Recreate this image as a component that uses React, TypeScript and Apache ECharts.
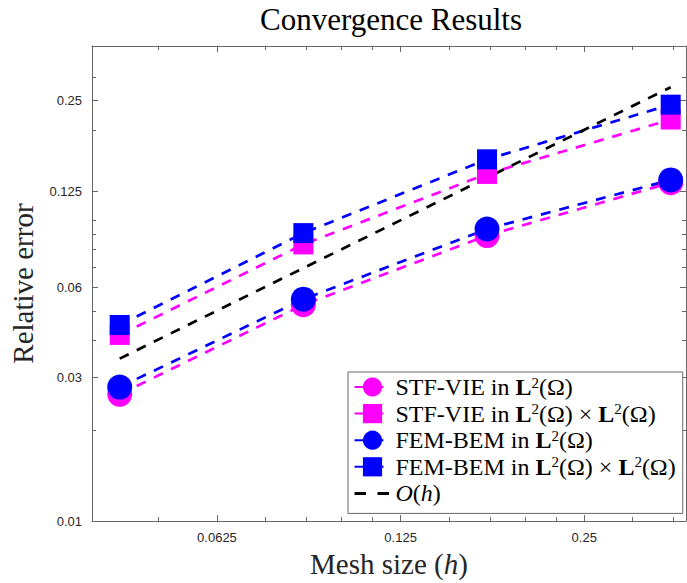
import React, { useEffect, useRef } from "react";
import * as echarts from "echarts";

// ---- data ----
const hValues = [0.0433, 0.0866, 0.1732, 0.3464];
const stfVieL2 = [0.0264, 0.0524, 0.089, 0.1335];
const stfVieL2xL2 = [0.0416, 0.0832, 0.1427, 0.2164];
const femBemL2 = [0.0279, 0.0547, 0.0936, 0.1363];
const femBemL2xL2 = [0.0449, 0.0907, 0.1596, 0.2425];
const orderH = [0.0347, 0.0694, 0.1386, 0.2772];

const seriesNames = [
  "STF-VIE in L2(Ω)",
  "STF-VIE in L2(Ω) x L2(Ω)",
  "FEM-BEM in L2(Ω)",
  "FEM-BEM in L2(Ω) x L2(Ω)",
  "O(h)",
];

const xTickValues = [0.0625, 0.125, 0.25];
const xTickLabels = ["0.0625", "0.125", "0.25"];
const xMinorTicks = [0.05, 0.075, 0.0875, 0.1, 0.1125, 0.15, 0.175, 0.2, 0.225, 0.3, 0.35];
const yTickValues = [0.01, 0.03, 0.06, 0.125, 0.25];
const yTickLabels = ["0.01", "0.03", "0.06", "0.125", "0.25"];
const yMinorTicks = [0.02, 0.04, 0.05, 0.07, 0.08, 0.09, 0.1, 0.2, 0.3];

const X_MIN = 0.039;
const X_MAX = 0.367;
const Y_MIN = 0.01;
const Y_MAX = 0.38;

// ---- styles ----
const SERIF = "'Liberation Serif', 'Times New Roman', serif";
const SANS = "'Liberation Sans', Arial, Helvetica, sans-serif";
const AXIS = "#666666";
const MAGENTA = "#ff00ff";
const BLUE = "#0000ff";

function labelFor(values: number[], labels: string[]) {
  return (v: number) => {
    let best = 0;
    for (let i = 1; i < values.length; i++) {
      if (Math.abs(Math.log(values[i] / v)) < Math.abs(Math.log(values[best] / v))) best = i;
    }
    return labels[best];
  };
}

function legendRich(name: string) {
  if (name === "O(h)") return "{cal|O}({i|h})";
  return name
    .replace(/L2\(Ω\)/g, "{b|L}{sup|2}(Ω)")
    .replace(" x ", " × ");
}

function makeAxis(dir: "x" | "y", position: string, ticks: number[], len: number, showLine: boolean, labels: boolean) {
  const isX = dir === "x";
  const ax: any = {
    type: "log",
    logBase: 10,
    position,
    min: isX ? X_MIN : Y_MIN,
    max: isX ? X_MAX : Y_MAX,
    axisLine: { show: showLine, onZero: false, lineStyle: { color: AXIS, width: 1 } },
    axisTick: { show: true, inside: true, length: len, customValues: ticks, lineStyle: { color: AXIS, width: 1 } },
    axisLabel: { show: false },
    splitLine: { show: false },
    minorTick: { show: false },
    minorSplitLine: { show: false },
    silent: true,
  };
  if (labels) {
    ax.axisLabel = {
      show: true,
      customValues: ticks,
      formatter: isX ? labelFor(xTickValues, xTickLabels) : labelFor(yTickValues, yTickLabels),
      margin: 10,
      color: "#262626",
      fontSize: 13,
      fontFamily: SANS,
    };
  }
  return ax;
}

export default function App() {
  const ref = useRef<HTMLDivElement>(null);

  useEffect(() => {
    if (!ref.current) return;
    const chart = echarts.init(ref.current, undefined, { renderer: "svg" });

    const xAxes = [
      makeAxis("x", "bottom", xTickValues, 6, true, true),
      makeAxis("x", "bottom", xMinorTicks, 4, false, false),
      makeAxis("x", "top", xTickValues, 6, true, false),
      makeAxis("x", "top", xMinorTicks, 4, false, false),
    ];
    Object.assign(xAxes[0], {
      name: "Mesh size ({i|h})",
      nameLocation: "middle",
      nameGap: 21,
      nameTextStyle: {
        fontFamily: SERIF,
        fontSize: 29,
        color: "#262626",
        verticalAlign: "top",
        rich: { i: { fontFamily: SERIF, fontSize: 29, fontStyle: "italic", color: "#262626" } },
      },
    });
    const yAxes = [
      makeAxis("y", "left", yTickValues, 6, true, true),
      makeAxis("y", "left", yMinorTicks, 4, false, false),
      makeAxis("y", "right", yTickValues, 6, true, false),
      makeAxis("y", "right", yMinorTicks, 4, false, false),
    ];
    Object.assign(yAxes[0], {
      name: "Relative error",
      nameLocation: "middle",
      nameGap: 55,
      nameTextStyle: { fontFamily: SERIF, fontSize: 29, color: "#262626" },
    });

    const mk = (name: string, ys: number[], color: string, symbol: string, size: number) => ({
      type: "line",
      name,
      data: hValues.map((x, i) => [x, ys[i]]),
      xAxisIndex: 0,
      yAxisIndex: 0,
      symbol,
      symbolSize: size,
      showSymbol: symbol !== "none",
      lineStyle: { color, width: 2.7, type: [10, 9] },
      itemStyle: { color, borderWidth: 0 },
      emphasis: { disabled: true },
    });

    chart.setOption({
      animation: false,
      backgroundColor: "#ffffff",
      title: {
        text: "Convergence Results",
        left: 391,
        top: 4,
        textAlign: "center",
        padding: 0,
        textStyle: { fontFamily: SERIF, fontSize: 31, fontWeight: "normal", color: "#000" },
      },
      grid: { left: 90, right: 1, top: 46, bottom: 59, containLabel: false },
      xAxis: xAxes,
      yAxis: yAxes,
      legend: {
        show: true,
        orient: "vertical",
        left: 348,
        top: 372,
        itemWidth: 36,
        itemHeight: 24,
        itemGap: 2.6,
        padding: [3, 7, 8, 5],
        backgroundColor: "#ffffff",
        borderColor: AXIS,
        borderWidth: 1,
        borderRadius: 0,
        selectedMode: false,
        itemStyle: { borderWidth: 0 },
        data: [
          seriesNames[0],
          seriesNames[1],
          seriesNames[2],
          seriesNames[3],
          { name: seriesNames[4], itemStyle: { opacity: 0 }, lineStyle: { type: [11.5, 11.5], width: 3 } },
        ],
        formatter: (name: string) => legendRich(name),
        textStyle: {
          fontFamily: SERIF,
          fontSize: 24,
          lineHeight: 24,
          color: "#000",
          rich: {
            b: { fontFamily: SERIF, fontSize: 24, fontWeight: "bold", lineHeight: 24 },
            sup: { fontFamily: SERIF, fontSize: 15, lineHeight: 15, verticalAlign: "top" },
            i: { fontFamily: SERIF, fontSize: 24, fontStyle: "italic", lineHeight: 24 },
            cal: { fontFamily: SERIF, fontSize: 24, fontStyle: "italic", lineHeight: 24 },
          },
        },
      },
      series: [
        mk(seriesNames[0], stfVieL2, MAGENTA, "circle", 25),
        mk(seriesNames[1], stfVieL2xL2, MAGENTA, "rect", 20),
        mk(seriesNames[2], femBemL2, BLUE, "circle", 25),
        mk(seriesNames[3], femBemL2xL2, BLUE, "rect", 20),
        mk(seriesNames[4], orderH, "#000000", "none", 0),
      ],
    });

    return () => chart.dispose();
  }, []);

  return (
    <div
      ref={ref}
      style={{ position: "fixed", left: 0, top: 0, width: 687, height: 583, background: "#fff" }}
    />
  );
}
